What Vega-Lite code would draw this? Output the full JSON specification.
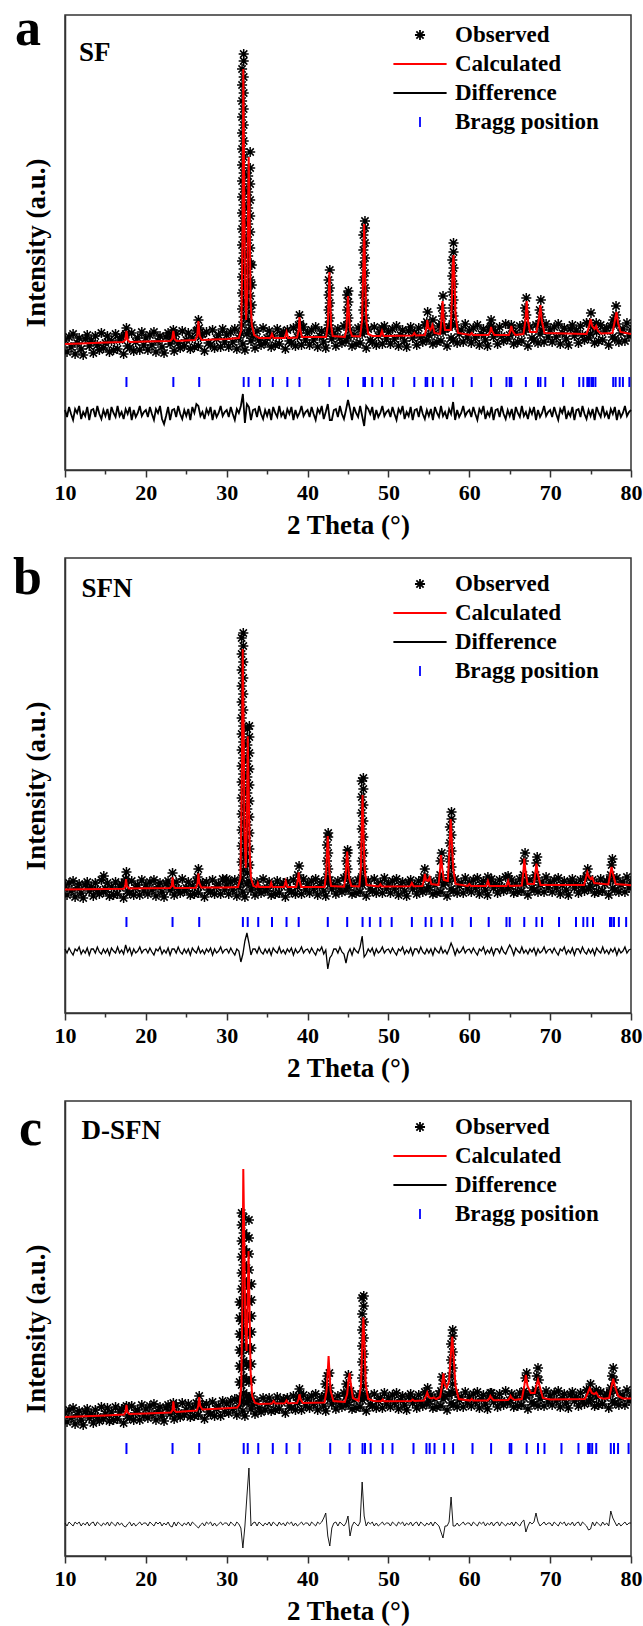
{
"$schema": "https://vega.github.io/schema/vega-lite/v6.json",
"background": "white",
"padding": {"left": 12, "top": 2, "right": 5, "bottom": 0},
"bounds": "flush",
"spacing": 88,
"resolve": {"scale": {"color": "independent", "shape": "independent", "y": "independent"}, "legend": {"color": "independent", "shape": "independent"}},
"config": {
 "font": "Liberation Serif",
 "view": {"stroke": "#333333", "strokeWidth": 1.5},
 "axis": {"grid": false, "domainColor": "#333333", "domainWidth": 1.5, "tickColor": "#333333", "tickWidth": 1.5, "labelFont": "Liberation Serif", "labelFontWeight": "bold", "labelColor": "#000000", "titleFont": "Liberation Serif", "titleFontWeight": "bold", "titleColor": "#000000"},
 "legend": {"labelFont": "Liberation Serif", "labelFontWeight": "bold", "labelFontSize": 23, "labelColor": "#000000", "symbolSize": 784, "symbolStrokeWidth": 1.8, "labelOffset": 20, "rowPadding": 2, "padding": 0, "symbolOpacity": 1, "labelLimit": 400}
},
"datasets": {
"a": [
{"x":10,"o":130,"d":60},{"x":10.25,"o":118,"d":53},{"x":10.5,"o":133,"d":63},{"x":10.75,"o":123,"d":56},{"x":11,"o":136,"d":50},{"x":11.25,"o":116,"d":61},{"x":11.5,"o":127,"d":57},{"x":11.75,"o":132,"d":64},{"x":12,"o":121,"d":51},{"x":12.25,"o":115,"d":58},{"x":12.5,"o":131,"d":54},{"x":12.75,"o":135,"d":63},{"x":13,"o":124,"d":50},{"x":13.25,"o":129,"d":60},{"x":13.5,"o":117,"d":61},{"x":13.75,"o":134,"d":53},{"x":14,"o":125,"d":64},{"x":14.25,"o":120,"d":56},{"x":14.5,"o":137,"d":51},{"x":14.75,"o":122,"d":60},{"x":15,"o":127,"d":54},{"x":15.25,"o":134,"d":61},{"x":15.5,"o":118,"d":50},{"x":15.75,"o":129,"d":63},{"x":16,"o":120,"d":57},{"x":16.25,"o":136,"d":53},{"x":16.5,"o":121,"d":64},{"x":16.75,"o":130,"d":54},{"x":17,"o":133,"d":58},{"x":17.25,"o":116,"d":51},{"x":17.5,"o":135,"d":61},{"x":17.75,"o":124,"d":56},{"x":18,"o":122,"d":63},{"x":18.25,"o":137,"d":50},{"x":18.5,"o":119,"d":60},{"x":18.75,"o":128,"d":53},{"x":19,"o":132,"d":57},{"x":19.25,"o":120,"d":64},{"x":19.5,"o":138,"d":54},{"x":19.75,"o":125,"d":58},
{"x":20,"o":132,"d":60},{"x":20.25,"o":120,"d":53},{"x":20.5,"o":135,"d":63},{"x":20.75,"o":125,"d":56},{"x":21,"o":138,"d":50},{"x":21.25,"o":118,"d":61},{"x":21.5,"o":129,"d":57},{"x":21.75,"o":134,"d":64},{"x":22,"o":123,"d":51},{"x":22.25,"o":117,"d":46},{"x":22.5,"o":133,"d":54},{"x":22.75,"o":137,"d":63},{"x":23,"o":126,"d":50},{"x":23.25,"o":131,"d":60},{"x":23.5,"o":119,"d":61},{"x":23.75,"o":136,"d":53},{"x":24,"o":127,"d":64},{"x":24.25,"o":122,"d":56},{"x":24.5,"o":139,"d":51},{"x":24.75,"o":124,"d":60},{"x":25,"o":130,"d":54},{"x":25.25,"o":137,"d":61},{"x":25.5,"o":121,"d":50},{"x":25.75,"o":132,"d":63},{"x":26,"o":123,"d":57},{"x":26.25,"o":139,"d":66},{"x":26.5,"o":124,"d":64},{"x":26.75,"o":133,"d":54},{"x":27,"o":136,"d":58},{"x":27.25,"o":119,"d":51},{"x":27.5,"o":138,"d":61},{"x":27.75,"o":127,"d":56},{"x":28,"o":125,"d":63},{"x":28.25,"o":140,"d":50},{"x":28.5,"o":122,"d":60},{"x":28.75,"o":131,"d":53},{"x":29,"o":135,"d":57},{"x":29.25,"o":123,"d":64},{"x":29.5,"o":141,"d":54},{"x":29.75,"o":128,"d":58},
{"x":30,"o":135,"d":60},{"x":30.25,"o":123,"d":53},{"x":30.5,"o":138,"d":63},{"x":30.75,"o":128,"d":56},{"x":31,"o":141,"d":50},{"x":31.25,"o":121,"d":61},{"x":31.5,"o":132,"d":57},{"x":31.75,"o":137,"d":64},{"x":32,"o":126,"d":76},{"x":32.25,"o":120,"d":47},{"x":32.5,"o":136,"d":66},{"x":32.75,"o":140,"d":63},{"x":33,"o":129,"d":50},{"x":33.25,"o":134,"d":60},{"x":33.5,"o":122,"d":61},{"x":33.75,"o":139,"d":53},{"x":34,"o":130,"d":64},{"x":34.25,"o":125,"d":56},{"x":34.5,"o":142,"d":51},{"x":34.75,"o":127,"d":60},{"x":35,"o":132,"d":54},{"x":35.25,"o":139,"d":61},{"x":35.5,"o":123,"d":50},{"x":35.75,"o":134,"d":63},{"x":36,"o":125,"d":57},{"x":36.25,"o":141,"d":53},{"x":36.5,"o":126,"d":64},{"x":36.75,"o":135,"d":54},{"x":37,"o":138,"d":58},{"x":37.25,"o":121,"d":51},{"x":37.5,"o":140,"d":61},{"x":37.75,"o":129,"d":56},{"x":38,"o":127,"d":63},{"x":38.25,"o":142,"d":50},{"x":38.5,"o":124,"d":60},{"x":38.75,"o":133,"d":53},{"x":39,"o":137,"d":57},{"x":39.25,"o":125,"d":64},{"x":39.5,"o":143,"d":54},{"x":39.75,"o":130,"d":58},
{"x":40,"o":137,"d":60},{"x":40.25,"o":125,"d":53},{"x":40.5,"o":140,"d":63},{"x":40.75,"o":130,"d":56},{"x":41,"o":143,"d":50},{"x":41.25,"o":123,"d":61},{"x":41.5,"o":134,"d":57},{"x":41.75,"o":139,"d":64},{"x":42,"o":128,"d":51},{"x":42.25,"o":122,"d":58},{"x":42.5,"o":138,"d":66},{"x":42.75,"o":142,"d":50},{"x":43,"o":131,"d":50},{"x":43.25,"o":136,"d":60},{"x":43.5,"o":124,"d":61},{"x":43.75,"o":141,"d":53},{"x":44,"o":132,"d":64},{"x":44.25,"o":127,"d":56},{"x":44.5,"o":144,"d":51},{"x":44.75,"o":129,"d":60},{"x":45,"o":133,"d":70},{"x":45.25,"o":140,"d":61},{"x":45.5,"o":124,"d":50},{"x":45.75,"o":135,"d":63},{"x":46,"o":126,"d":57},{"x":46.25,"o":142,"d":53},{"x":46.5,"o":127,"d":64},{"x":46.75,"o":136,"d":54},{"x":47,"o":139,"d":44},{"x":47.25,"o":122,"d":64},{"x":47.5,"o":141,"d":61},{"x":47.75,"o":130,"d":56},{"x":48,"o":128,"d":63},{"x":48.25,"o":143,"d":50},{"x":48.5,"o":125,"d":60},{"x":48.75,"o":134,"d":53},{"x":49,"o":138,"d":57},{"x":49.25,"o":126,"d":64},{"x":49.5,"o":144,"d":54},{"x":49.75,"o":131,"d":58},
{"x":50,"o":138,"d":60},{"x":50.25,"o":126,"d":53},{"x":50.5,"o":141,"d":63},{"x":50.75,"o":131,"d":56},{"x":51,"o":144,"d":50},{"x":51.25,"o":124,"d":61},{"x":51.5,"o":135,"d":57},{"x":51.75,"o":140,"d":64},{"x":52,"o":129,"d":51},{"x":52.25,"o":123,"d":58},{"x":52.5,"o":139,"d":54},{"x":52.75,"o":143,"d":63},{"x":53,"o":132,"d":50},{"x":53.25,"o":137,"d":60},{"x":53.5,"o":125,"d":61},{"x":53.75,"o":142,"d":53},{"x":54,"o":133,"d":64},{"x":54.25,"o":128,"d":56},{"x":54.5,"o":145,"d":51},{"x":54.75,"o":130,"d":60},{"x":55,"o":135,"d":54},{"x":55.25,"o":142,"d":61},{"x":55.5,"o":126,"d":50},{"x":55.75,"o":137,"d":63},{"x":56,"o":128,"d":57},{"x":56.25,"o":144,"d":53},{"x":56.5,"o":129,"d":64},{"x":56.75,"o":138,"d":54},{"x":57,"o":141,"d":58},{"x":57.25,"o":124,"d":51},{"x":57.5,"o":143,"d":61},{"x":57.75,"o":132,"d":56},{"x":58,"o":130,"d":68},{"x":58.25,"o":145,"d":50},{"x":58.5,"o":127,"d":60},{"x":58.75,"o":136,"d":53},{"x":59,"o":140,"d":57},{"x":59.25,"o":128,"d":64},{"x":59.5,"o":146,"d":54},{"x":59.75,"o":133,"d":58},
{"x":60,"o":139,"d":60},{"x":60.25,"o":127,"d":53},{"x":60.5,"o":142,"d":63},{"x":60.75,"o":132,"d":56},{"x":61,"o":145,"d":50},{"x":61.25,"o":125,"d":61},{"x":61.5,"o":136,"d":57},{"x":61.75,"o":141,"d":64},{"x":62,"o":130,"d":51},{"x":62.25,"o":124,"d":58},{"x":62.5,"o":140,"d":54},{"x":62.75,"o":144,"d":63},{"x":63,"o":133,"d":50},{"x":63.25,"o":138,"d":60},{"x":63.5,"o":126,"d":61},{"x":63.75,"o":143,"d":53},{"x":64,"o":134,"d":64},{"x":64.25,"o":129,"d":56},{"x":64.5,"o":146,"d":51},{"x":64.75,"o":131,"d":60},{"x":65,"o":135,"d":54},{"x":65.25,"o":142,"d":61},{"x":65.5,"o":126,"d":50},{"x":65.75,"o":137,"d":63},{"x":66,"o":128,"d":57},{"x":66.25,"o":144,"d":53},{"x":66.5,"o":129,"d":64},{"x":66.75,"o":138,"d":54},{"x":67,"o":141,"d":58},{"x":67.25,"o":124,"d":51},{"x":67.5,"o":143,"d":61},{"x":67.75,"o":132,"d":56},{"x":68,"o":130,"d":63},{"x":68.25,"o":145,"d":50},{"x":68.5,"o":127,"d":60},{"x":68.75,"o":136,"d":53},{"x":69,"o":140,"d":57},{"x":69.25,"o":128,"d":64},{"x":69.5,"o":146,"d":54},{"x":69.75,"o":133,"d":58},
{"x":70,"o":140,"d":60},{"x":70.25,"o":128,"d":53},{"x":70.5,"o":143,"d":63},{"x":70.75,"o":133,"d":56},{"x":71,"o":146,"d":50},{"x":71.25,"o":126,"d":61},{"x":71.5,"o":137,"d":57},{"x":71.75,"o":142,"d":64},{"x":72,"o":131,"d":51},{"x":72.25,"o":125,"d":58},{"x":72.5,"o":141,"d":54},{"x":72.75,"o":145,"d":63},{"x":73,"o":134,"d":50},{"x":73.25,"o":139,"d":60},{"x":73.5,"o":127,"d":61},{"x":73.75,"o":144,"d":53},{"x":74,"o":135,"d":64},{"x":74.25,"o":130,"d":56},{"x":74.5,"o":147,"d":51},{"x":74.75,"o":132,"d":60},{"x":75,"o":136,"d":54},{"x":75.25,"o":143,"d":61},{"x":75.5,"o":127,"d":50},{"x":75.75,"o":138,"d":63},{"x":76,"o":129,"d":57},{"x":76.25,"o":145,"d":53},{"x":76.5,"o":130,"d":64},{"x":76.75,"o":139,"d":54},{"x":77,"o":142,"d":58},{"x":77.25,"o":125,"d":51},{"x":77.5,"o":144,"d":61},{"x":77.75,"o":133,"d":56},{"x":78,"o":131,"d":63},{"x":78.25,"o":146,"d":50},{"x":78.5,"o":128,"d":60},{"x":78.75,"o":137,"d":53},{"x":79,"o":141,"d":57},{"x":79.25,"o":129,"d":64},{"x":79.5,"o":147,"d":54},{"x":79.75,"o":134,"d":58},{"x":80,"o":140,"d":60},
{"x":17.5,"o":136},{"x":17.6,"o":142},{"x":23.3,"o":135},{"x":23.4,"o":140},{"x":26.4,"o":140},{"x":26.5,"o":150},{"x":26.6,"o":142},
{"x":31.9,"o":145},{"x":31.9,"o":161},{"x":31.9,"o":177},{"x":31.9,"o":193},{"x":31.9,"o":209},{"x":31.9,"o":225},{"x":31.9,"o":241},{"x":31.9,"o":257},{"x":31.9,"o":273},{"x":31.9,"o":289},{"x":31.9,"o":305},{"x":31.9,"o":321},{"x":31.9,"o":337},{"x":31.9,"o":353},{"x":31.9,"o":369},{"x":31.9,"o":385},{"x":31.9,"o":401},
{"x":32.1,"o":153},{"x":32.1,"o":169},{"x":32.1,"o":185},{"x":32.1,"o":201},{"x":32.1,"o":217},{"x":32.1,"o":233},{"x":32.1,"o":249},{"x":32.1,"o":265},{"x":32.1,"o":281},{"x":32.1,"o":297},{"x":32.1,"o":313},{"x":32.1,"o":329},{"x":32.1,"o":345},{"x":32.1,"o":361},{"x":32.1,"o":377},{"x":32.1,"o":393},{"x":32.1,"o":409},{"x":32.1,"o":416},
{"x":32.65,"o":150},{"x":32.65,"o":166},{"x":32.65,"o":182},{"x":32.65,"o":198},{"x":32.65,"o":214},{"x":32.65,"o":230},{"x":32.65,"o":246},{"x":32.65,"o":262},{"x":32.65,"o":278},{"x":32.65,"o":294},
{"x":32.9,"o":158},{"x":32.9,"o":174},{"x":32.9,"o":190},{"x":32.9,"o":206},{"x":32.9,"o":222},{"x":32.9,"o":238},{"x":32.9,"o":254},{"x":32.9,"o":270},{"x":32.9,"o":286},{"x":32.9,"o":302},{"x":32.9,"o":318},
{"x":33.1,"o":145},{"x":33.1,"o":165},{"x":33.1,"o":185},{"x":33.1,"o":205},
{"x":38.9,"o":145},{"x":39,"o":155},{"x":39.1,"o":146},
{"x":42.6,"o":145},{"x":42.6,"o":160},{"x":42.6,"o":175},{"x":42.6,"o":190},{"x":42.75,"o":152},{"x":42.75,"o":167},{"x":42.75,"o":182},{"x":42.75,"o":200},
{"x":44.9,"o":145},{"x":44.9,"o":160},{"x":44.9,"o":175},{"x":45.05,"o":152},{"x":45.05,"o":168},{"x":45.05,"o":179},
{"x":46.9,"o":145},{"x":46.9,"o":160},{"x":46.9,"o":175},{"x":46.9,"o":190},{"x":46.9,"o":205},{"x":46.9,"o":220},{"x":46.9,"o":235},{"x":47.1,"o":152},{"x":47.1,"o":167},{"x":47.1,"o":182},{"x":47.1,"o":197},{"x":47.1,"o":212},{"x":47.1,"o":227},{"x":47.1,"o":242},{"x":47.1,"o":249},
{"x":49.2,"o":142},{"x":54.75,"o":148},{"x":54.85,"o":158},{"x":55.5,"o":150},
{"x":56.6,"o":146},{"x":56.6,"o":162},{"x":56.75,"o":154},{"x":56.75,"o":174},
{"x":57.9,"o":146},{"x":57.9,"o":162},{"x":57.9,"o":178},{"x":57.9,"o":194},{"x":57.9,"o":210},{"x":58.05,"o":154},{"x":58.05,"o":170},{"x":58.05,"o":186},{"x":58.05,"o":202},{"x":58.05,"o":218},{"x":58.05,"o":227},
{"x":62.6,"o":143},{"x":62.7,"o":150},{"x":65.2,"o":145},
{"x":66.9,"o":146},{"x":66.9,"o":162},{"x":67.05,"o":155},{"x":67.05,"o":172},
{"x":68.7,"o":146},{"x":68.7,"o":160},{"x":68.85,"o":153},{"x":68.85,"o":170},
{"x":74.9,"o":147},{"x":75.05,"o":157},{"x":75.7,"o":147},
{"x":77.8,"o":150},{"x":78,"o":147},{"x":78.15,"o":155},{"x":78.15,"o":164}
],
"ac": [
{"x":10,"c":126},{"x":12,"c":126.5},{"x":15,"c":127.5},{"x":17.2,"c":128},{"x":17.45,"c":130},{"x":17.6,"c":139},{"x":17.75,"c":130},{"x":18,"c":128},{"x":20,"c":128.5},{"x":23,"c":129},{"x":23.25,"c":131},{"x":23.4,"c":139},{"x":23.55,"c":131},{"x":23.8,"c":129},{"x":26.1,"c":130},{"x":26.35,"c":134},{"x":26.5,"c":149},{"x":26.65,"c":134},{"x":26.9,"c":130},{"x":30,"c":131},{"x":31.5,"c":132},{"x":31.8,"c":140},{"x":31.95,"c":230},{"x":32.05,"c":401},{"x":32.15,"c":300},{"x":32.25,"c":190},{"x":32.4,"c":150},{"x":32.55,"c":180},{"x":32.65,"c":270},{"x":32.72,"c":313},{"x":32.82,"c":260},{"x":32.95,"c":170},{"x":33.1,"c":145},{"x":33.4,"c":135},{"x":34,"c":132},{"x":35.4,"c":132},{"x":35.6,"c":136},{"x":35.8,"c":132},{"x":37.2,"c":132},{"x":37.4,"c":138},{"x":37.6,"c":132},{"x":38.7,"c":132.5},{"x":38.9,"c":140},{"x":39,"c":153},{"x":39.1,"c":140},{"x":39.3,"c":133},{"x":42.3,"c":133},{"x":42.5,"c":145},{"x":42.6,"c":170},{"x":42.7,"c":198},{"x":42.8,"c":170},{"x":42.9,"c":145},{"x":43.1,"c":134},{"x":44.6,"c":133},{"x":44.8,"c":140},{"x":44.92,"c":160},{"x":45,"c":174},{"x":45.1,"c":158},{"x":45.25,"c":140},{"x":45.5,"c":134},{"x":46.5,"c":133.5},{"x":46.75,"c":150},{"x":46.88,"c":200},{"x":47,"c":246},{"x":47.1,"c":200},{"x":47.25,"c":150},{"x":47.5,"c":136},{"x":48,"c":134},{"x":49,"c":134},{"x":49.2,"c":139},{"x":49.4,"c":134},{"x":53,"c":134.5},{"x":53.2,"c":137},{"x":53.4,"c":134.5},{"x":54.5,"c":135},{"x":54.7,"c":142},{"x":54.8,"c":150},{"x":54.95,"c":142},{"x":55.2,"c":140},{"x":55.45,"c":145},{"x":55.7,"c":137},{"x":56.4,"c":136},{"x":56.55,"c":150},{"x":56.7,"c":169},{"x":56.85,"c":150},{"x":57,"c":140},{"x":57.7,"c":140},{"x":57.85,"c":170},{"x":57.95,"c":205},{"x":58.05,"c":215},{"x":58.15,"c":195},{"x":58.3,"c":155},{"x":58.6,"c":137},{"x":60.1,"c":135},{"x":60.3,"c":137},{"x":60.5,"c":135},{"x":62.4,"c":135},{"x":62.6,"c":139},{"x":62.7,"c":143},{"x":62.8,"c":139},{"x":63.1,"c":135},{"x":64.9,"c":135},{"x":65.1,"c":140},{"x":65.2,"c":144},{"x":65.35,"c":139},{"x":65.7,"c":135},{"x":66.7,"c":136},{"x":66.95,"c":150},{"x":67.1,"c":169},{"x":67.25,"c":150},{"x":67.5,"c":138},{"x":68.3,"c":138},{"x":68.6,"c":150},{"x":68.8,"c":165},{"x":68.95,"c":150},{"x":69.3,"c":137},{"x":74.5,"c":136},{"x":74.8,"c":143},{"x":75,"c":151},{"x":75.2,"c":144},{"x":75.5,"c":141},{"x":75.7,"c":144},{"x":75.9,"c":139},{"x":76.3,"c":136.5},{"x":77.7,"c":137},{"x":77.95,"c":147},{"x":78.2,"c":158},{"x":78.4,"c":147},{"x":78.7,"c":138},{"x":80,"c":136}
],
"ab": [{"x":17.6},{"x":23.4},{"x":26.6},{"x":32.1},{"x":32.7},{"x":34.1},{"x":35.7},{"x":37.5},{"x":39.0},{"x":42.7},{"x":45.0},{"x":46.9},{"x":47.1},{"x":48.0},{"x":49.2},{"x":50.6},{"x":53.2},{"x":54.6},{"x":54.8},{"x":55.5},{"x":56.7},{"x":58.0},{"x":60.3},{"x":62.7},{"x":64.6},{"x":65.0},{"x":65.2},{"x":67.0},{"x":68.5},{"x":68.8},{"x":69.4},{"x":71.6},{"x":73.6},{"x":74.1},{"x":74.6},{"x":74.8},{"x":75.1},{"x":75.3},{"x":75.6},{"x":77.8},{"x":78.1},{"x":78.6},{"x":79.0},{"x":79.8}],
"b": [
{"x":10,"o":127,"d":64},{"x":10.25,"o":118,"d":60},{"x":10.5,"o":130,"d":65},{"x":10.75,"o":122,"d":61},{"x":11,"o":132,"d":58},{"x":11.25,"o":116,"d":64},{"x":11.5,"o":125,"d":62},{"x":11.75,"o":129,"d":66},{"x":12,"o":120,"d":59},{"x":12.25,"o":115,"d":63},{"x":12.5,"o":128,"d":60},{"x":12.75,"o":131,"d":65},{"x":13,"o":122,"d":58},{"x":13.25,"o":126,"d":64},{"x":13.5,"o":117,"d":64},{"x":13.75,"o":130,"d":60},{"x":14,"o":123,"d":66},{"x":14.25,"o":119,"d":61},{"x":14.5,"o":133,"d":59},{"x":14.75,"o":121,"d":64},{"x":15,"o":124,"d":60},{"x":15.25,"o":130,"d":64},{"x":15.5,"o":117,"d":58},{"x":15.75,"o":126,"d":65},{"x":16,"o":118,"d":62},{"x":16.25,"o":131,"d":60},{"x":16.5,"o":119,"d":66},{"x":16.75,"o":126,"d":60},{"x":17,"o":129,"d":63},{"x":17.25,"o":115,"d":59},{"x":17.5,"o":130,"d":68},{"x":17.75,"o":122,"d":61},{"x":18,"o":120,"d":65},{"x":18.25,"o":132,"d":58},{"x":18.5,"o":118,"d":64},{"x":18.75,"o":125,"d":60},{"x":19,"o":128,"d":62},{"x":19.25,"o":118,"d":66},{"x":19.5,"o":133,"d":60},{"x":19.75,"o":122,"d":63},
{"x":20,"o":128,"d":64},{"x":20.25,"o":119,"d":60},{"x":20.5,"o":131,"d":65},{"x":20.75,"o":123,"d":61},{"x":21,"o":133,"d":58},{"x":21.25,"o":117,"d":64},{"x":21.5,"o":126,"d":62},{"x":21.75,"o":130,"d":66},{"x":22,"o":121,"d":59},{"x":22.25,"o":116,"d":63},{"x":22.5,"o":129,"d":60},{"x":22.75,"o":132,"d":65},{"x":23,"o":123,"d":58},{"x":23.25,"o":127,"d":64},{"x":23.5,"o":118,"d":64},{"x":23.75,"o":131,"d":60},{"x":24,"o":124,"d":66},{"x":24.25,"o":120,"d":61},{"x":24.5,"o":134,"d":59},{"x":24.75,"o":122,"d":64},{"x":25,"o":125,"d":60},{"x":25.25,"o":131,"d":64},{"x":25.5,"o":118,"d":58},{"x":25.75,"o":127,"d":65},{"x":26,"o":119,"d":62},{"x":26.25,"o":132,"d":60},{"x":26.5,"o":120,"d":66},{"x":26.75,"o":127,"d":60},{"x":27,"o":130,"d":63},{"x":27.25,"o":116,"d":59},{"x":27.5,"o":131,"d":64},{"x":27.75,"o":123,"d":61},{"x":28,"o":121,"d":65},{"x":28.25,"o":133,"d":58},{"x":28.5,"o":119,"d":64},{"x":28.75,"o":126,"d":60},{"x":29,"o":129,"d":62},{"x":29.25,"o":119,"d":66},{"x":29.5,"o":134,"d":60},{"x":29.75,"o":123,"d":63},
{"x":30,"o":128,"d":64},{"x":30.25,"o":119,"d":60},{"x":30.5,"o":131,"d":65},{"x":30.75,"o":123,"d":61},{"x":31,"o":133,"d":58},{"x":31.25,"o":117,"d":64},{"x":31.5,"o":126,"d":62},{"x":31.75,"o":130,"d":51},{"x":32,"o":121,"d":59},{"x":32.25,"o":116,"d":72},{"x":32.5,"o":129,"d":80},{"x":32.75,"o":132,"d":70},{"x":33,"o":123,"d":58},{"x":33.25,"o":127,"d":64},{"x":33.5,"o":118,"d":64},{"x":33.75,"o":131,"d":60},{"x":34,"o":124,"d":66},{"x":34.25,"o":120,"d":61},{"x":34.5,"o":134,"d":59},{"x":34.75,"o":122,"d":64},{"x":35,"o":125,"d":60},{"x":35.25,"o":131,"d":64},{"x":35.5,"o":118,"d":58},{"x":35.75,"o":127,"d":65},{"x":36,"o":119,"d":62},{"x":36.25,"o":132,"d":60},{"x":36.5,"o":120,"d":66},{"x":36.75,"o":127,"d":60},{"x":37,"o":130,"d":63},{"x":37.25,"o":116,"d":59},{"x":37.5,"o":131,"d":64},{"x":37.75,"o":123,"d":61},{"x":38,"o":121,"d":65},{"x":38.25,"o":133,"d":58},{"x":38.5,"o":119,"d":64},{"x":38.75,"o":126,"d":60},{"x":39,"o":129,"d":62},{"x":39.25,"o":119,"d":66},{"x":39.5,"o":134,"d":60},{"x":39.75,"o":123,"d":63},
{"x":40,"o":129,"d":64},{"x":40.25,"o":120,"d":60},{"x":40.5,"o":132,"d":65},{"x":40.75,"o":124,"d":61},{"x":41,"o":134,"d":58},{"x":41.25,"o":118,"d":64},{"x":41.5,"o":127,"d":62},{"x":41.75,"o":131,"d":66},{"x":42,"o":122,"d":59},{"x":42.25,"o":117,"d":63},{"x":42.5,"o":130,"d":44},{"x":42.75,"o":133,"d":55},{"x":43,"o":124,"d":58},{"x":43.25,"o":128,"d":64},{"x":43.5,"o":119,"d":64},{"x":43.75,"o":132,"d":60},{"x":44,"o":125,"d":66},{"x":44.25,"o":121,"d":61},{"x":44.5,"o":135,"d":59},{"x":44.75,"o":123,"d":50},{"x":45,"o":126,"d":60},{"x":45.25,"o":132,"d":64},{"x":45.5,"o":119,"d":58},{"x":45.75,"o":128,"d":65},{"x":46,"o":120,"d":62},{"x":46.25,"o":133,"d":60},{"x":46.5,"o":121,"d":66},{"x":46.75,"o":128,"d":77},{"x":47,"o":131,"d":56},{"x":47.25,"o":117,"d":59},{"x":47.5,"o":132,"d":64},{"x":47.75,"o":124,"d":61},{"x":48,"o":122,"d":65},{"x":48.25,"o":134,"d":58},{"x":48.5,"o":120,"d":64},{"x":48.75,"o":127,"d":60},{"x":49,"o":130,"d":62},{"x":49.25,"o":120,"d":66},{"x":49.5,"o":135,"d":60},{"x":49.75,"o":124,"d":63},
{"x":50,"o":129,"d":64},{"x":50.25,"o":120,"d":60},{"x":50.5,"o":132,"d":65},{"x":50.75,"o":124,"d":61},{"x":51,"o":134,"d":58},{"x":51.25,"o":118,"d":64},{"x":51.5,"o":127,"d":62},{"x":51.75,"o":131,"d":66},{"x":52,"o":122,"d":59},{"x":52.25,"o":117,"d":63},{"x":52.5,"o":130,"d":60},{"x":52.75,"o":133,"d":65},{"x":53,"o":124,"d":58},{"x":53.25,"o":128,"d":64},{"x":53.5,"o":119,"d":64},{"x":53.75,"o":132,"d":60},{"x":54,"o":125,"d":66},{"x":54.25,"o":121,"d":61},{"x":54.5,"o":135,"d":59},{"x":54.75,"o":123,"d":64},{"x":55,"o":126,"d":60},{"x":55.25,"o":132,"d":64},{"x":55.5,"o":119,"d":58},{"x":55.75,"o":128,"d":65},{"x":56,"o":120,"d":62},{"x":56.25,"o":133,"d":60},{"x":56.5,"o":121,"d":66},{"x":56.75,"o":128,"d":60},{"x":57,"o":131,"d":63},{"x":57.25,"o":117,"d":59},{"x":57.5,"o":132,"d":64},{"x":57.75,"o":124,"d":70},{"x":58,"o":122,"d":65},{"x":58.25,"o":134,"d":58},{"x":58.5,"o":120,"d":64},{"x":58.75,"o":127,"d":60},{"x":59,"o":130,"d":62},{"x":59.25,"o":120,"d":66},{"x":59.5,"o":135,"d":60},{"x":59.75,"o":124,"d":63},
{"x":60,"o":130,"d":64},{"x":60.25,"o":121,"d":60},{"x":60.5,"o":133,"d":65},{"x":60.75,"o":125,"d":61},{"x":61,"o":135,"d":58},{"x":61.25,"o":119,"d":64},{"x":61.5,"o":128,"d":62},{"x":61.75,"o":132,"d":66},{"x":62,"o":123,"d":59},{"x":62.25,"o":118,"d":63},{"x":62.5,"o":131,"d":60},{"x":62.75,"o":134,"d":65},{"x":63,"o":125,"d":58},{"x":63.25,"o":129,"d":64},{"x":63.5,"o":120,"d":64},{"x":63.75,"o":133,"d":60},{"x":64,"o":126,"d":66},{"x":64.25,"o":122,"d":61},{"x":64.5,"o":136,"d":59},{"x":64.75,"o":124,"d":64},{"x":65,"o":127,"d":68},{"x":65.25,"o":133,"d":64},{"x":65.5,"o":120,"d":58},{"x":65.75,"o":129,"d":65},{"x":66,"o":121,"d":62},{"x":66.25,"o":134,"d":60},{"x":66.5,"o":122,"d":66},{"x":66.75,"o":129,"d":60},{"x":67,"o":132,"d":63},{"x":67.25,"o":118,"d":59},{"x":67.5,"o":133,"d":64},{"x":67.75,"o":125,"d":61},{"x":68,"o":123,"d":65},{"x":68.25,"o":135,"d":58},{"x":68.5,"o":121,"d":64},{"x":68.75,"o":128,"d":60},{"x":69,"o":131,"d":62},{"x":69.25,"o":121,"d":66},{"x":69.5,"o":136,"d":60},{"x":69.75,"o":125,"d":63},
{"x":70,"o":130,"d":64},{"x":70.25,"o":121,"d":60},{"x":70.5,"o":133,"d":65},{"x":70.75,"o":125,"d":61},{"x":71,"o":135,"d":58},{"x":71.25,"o":119,"d":64},{"x":71.5,"o":128,"d":62},{"x":71.75,"o":132,"d":66},{"x":72,"o":123,"d":59},{"x":72.25,"o":118,"d":63},{"x":72.5,"o":131,"d":60},{"x":72.75,"o":134,"d":65},{"x":73,"o":125,"d":58},{"x":73.25,"o":129,"d":64},{"x":73.5,"o":120,"d":64},{"x":73.75,"o":133,"d":60},{"x":74,"o":126,"d":66},{"x":74.25,"o":122,"d":61},{"x":74.5,"o":136,"d":59},{"x":74.75,"o":124,"d":64},{"x":75,"o":127,"d":60},{"x":75.25,"o":133,"d":64},{"x":75.5,"o":120,"d":58},{"x":75.75,"o":129,"d":65},{"x":76,"o":121,"d":62},{"x":76.25,"o":134,"d":60},{"x":76.5,"o":122,"d":66},{"x":76.75,"o":129,"d":60},{"x":77,"o":132,"d":63},{"x":77.25,"o":118,"d":59},{"x":77.5,"o":133,"d":64},{"x":77.75,"o":125,"d":61},{"x":78,"o":123,"d":65},{"x":78.25,"o":135,"d":58},{"x":78.5,"o":121,"d":64},{"x":78.75,"o":128,"d":60},{"x":79,"o":131,"d":62},{"x":79.25,"o":121,"d":66},{"x":79.5,"o":136,"d":60},{"x":79.75,"o":125,"d":63},{"x":80,"o":130,"d":64},
{"x":14.8,"o":137},{"x":17.5,"o":134},{"x":17.6,"o":141},{"x":23.3,"o":140},{"x":26.4,"o":136},{"x":26.5,"o":144},{"x":30,"o":134},
{"x":31.85,"o":135},{"x":31.85,"o":151},{"x":31.85,"o":167},{"x":31.85,"o":183},{"x":31.85,"o":199},{"x":31.85,"o":215},{"x":31.85,"o":231},{"x":31.85,"o":247},{"x":31.85,"o":263},{"x":31.85,"o":279},{"x":31.85,"o":295},{"x":31.85,"o":311},{"x":31.85,"o":327},{"x":31.85,"o":343},{"x":31.85,"o":359},{"x":31.85,"o":375},
{"x":32.05,"o":143},{"x":32.05,"o":159},{"x":32.05,"o":175},{"x":32.05,"o":191},{"x":32.05,"o":207},{"x":32.05,"o":223},{"x":32.05,"o":239},{"x":32.05,"o":255},{"x":32.05,"o":271},{"x":32.05,"o":287},{"x":32.05,"o":303},{"x":32.05,"o":319},{"x":32.05,"o":335},{"x":32.05,"o":351},{"x":32.05,"o":367},{"x":32.05,"o":380},
{"x":32.55,"o":140},{"x":32.55,"o":156},{"x":32.55,"o":172},{"x":32.55,"o":188},{"x":32.55,"o":204},{"x":32.55,"o":220},{"x":32.55,"o":236},{"x":32.55,"o":252},{"x":32.55,"o":268},{"x":32.55,"o":284},
{"x":32.8,"o":148},{"x":32.8,"o":164},{"x":32.8,"o":180},{"x":32.8,"o":196},{"x":32.8,"o":212},{"x":32.8,"o":228},{"x":32.8,"o":244},{"x":32.8,"o":260},{"x":32.8,"o":276},{"x":32.8,"o":287},
{"x":38.8,"o":138},{"x":38.95,"o":147},
{"x":42.4,"o":136},{"x":42.4,"o":152},{"x":42.4,"o":168},{"x":42.55,"o":144},{"x":42.55,"o":160},{"x":42.55,"o":176},{"x":42.55,"o":180},
{"x":44.8,"o":136},{"x":44.8,"o":152},{"x":44.95,"o":144},{"x":44.95,"o":160},{"x":44.95,"o":163},
{"x":46.7,"o":136},{"x":46.7,"o":152},{"x":46.7,"o":168},{"x":46.7,"o":184},{"x":46.7,"o":200},{"x":46.7,"o":216},{"x":46.7,"o":232},{"x":46.9,"o":144},{"x":46.9,"o":160},{"x":46.9,"o":176},{"x":46.9,"o":192},{"x":46.9,"o":208},{"x":46.9,"o":224},{"x":46.9,"o":235},
{"x":54.4,"o":136},{"x":54.5,"o":144},{"x":56.4,"o":138},{"x":56.45,"o":152},{"x":56.6,"o":160},
{"x":57.6,"o":138},{"x":57.6,"o":154},{"x":57.6,"o":170},{"x":57.6,"o":186},{"x":57.8,"o":146},{"x":57.8,"o":162},{"x":57.8,"o":178},{"x":57.8,"o":194},{"x":57.8,"o":201},
{"x":62.3,"o":136},{"x":64.8,"o":137},{"x":66.7,"o":138},{"x":66.75,"o":152},{"x":66.9,"o":160},{"x":68.2,"o":138},{"x":68.3,"o":150},{"x":68.4,"o":156},{"x":74.5,"o":137},{"x":74.65,"o":144},{"x":77.5,"o":138},{"x":77.6,"o":148},{"x":77.7,"o":154}
],
"bc": [
{"x":10,"c":123.5},{"x":15,"c":124},{"x":17.3,"c":124.3},{"x":17.45,"c":127},{"x":17.55,"c":134},{"x":17.65,"c":127},{"x":17.9,"c":124.5},{"x":23,"c":125},{"x":23.2,"c":127},{"x":23.3,"c":135.6},{"x":23.4,"c":127},{"x":23.6,"c":125},{"x":26.2,"c":125.3},{"x":26.4,"c":130},{"x":26.5,"c":139.7},{"x":26.6,"c":130},{"x":26.85,"c":125.5},{"x":30,"c":125.5},{"x":31.4,"c":126},{"x":31.7,"c":135},{"x":31.85,"c":220},{"x":31.98,"c":364},{"x":32.1,"c":280},{"x":32.2,"c":180},{"x":32.35,"c":145},{"x":32.5,"c":190},{"x":32.6,"c":276.7},{"x":32.7,"c":230},{"x":32.85,"c":160},{"x":33,"c":135},{"x":33.3,"c":127},{"x":33.7,"c":126},{"x":33.85,"c":130},{"x":34,"c":126},{"x":35.35,"c":126},{"x":35.5,"c":130},{"x":35.65,"c":126},{"x":37.1,"c":126},{"x":37.3,"c":132},{"x":37.5,"c":126},{"x":38.6,"c":126},{"x":38.8,"c":133},{"x":38.9,"c":140.7},{"x":39,"c":133},{"x":39.2,"c":126},{"x":42.1,"c":126},{"x":42.3,"c":140},{"x":42.4,"c":160},{"x":42.5,"c":177},{"x":42.6,"c":160},{"x":42.7,"c":140},{"x":42.9,"c":127},{"x":44.5,"c":126.3},{"x":44.7,"c":135},{"x":44.82,"c":152},{"x":44.9,"c":161.4},{"x":45,"c":150},{"x":45.15,"c":135},{"x":45.4,"c":127},{"x":46.4,"c":126.5},{"x":46.6,"c":145},{"x":46.7,"c":185},{"x":46.8,"c":218},{"x":46.9,"c":185},{"x":47.05,"c":145},{"x":47.3,"c":128},{"x":48.8,"c":126.5},{"x":49,"c":128.7},{"x":49.2,"c":126.5},{"x":52.7,"c":126.8},{"x":52.9,"c":130},{"x":53.1,"c":126.8},{"x":54.2,"c":127},{"x":54.4,"c":133},{"x":54.5,"c":139},{"x":54.65,"c":133},{"x":54.9,"c":132},{"x":55.1,"c":135.6},{"x":55.3,"c":129},{"x":56.2,"c":128},{"x":56.4,"c":145},{"x":56.5,"c":158},{"x":56.65,"c":145},{"x":56.85,"c":133},{"x":57.35,"c":132},{"x":57.55,"c":165},{"x":57.7,"c":194},{"x":57.85,"c":170},{"x":58,"c":145},{"x":58.3,"c":129},{"x":59.8,"c":127},{"x":60,"c":129},{"x":60.2,"c":127},{"x":62.1,"c":127},{"x":62.3,"c":132},{"x":62.5,"c":127},{"x":64.6,"c":127},{"x":64.8,"c":132},{"x":65,"c":127},{"x":66.5,"c":127.5},{"x":66.7,"c":142},{"x":66.8,"c":154.5},{"x":66.95,"c":142},{"x":67.2,"c":129},{"x":68,"c":129},{"x":68.2,"c":142},{"x":68.3,"c":149.3},{"x":68.45,"c":140},{"x":68.8,"c":128},{"x":74.2,"c":128},{"x":74.45,"c":136},{"x":74.6,"c":140.7},{"x":74.8,"c":136},{"x":75,"c":134},{"x":75.2,"c":135.6},{"x":75.45,"c":130},{"x":77.2,"c":128.5},{"x":77.45,"c":140},{"x":77.6,"c":146},{"x":77.75,"c":140},{"x":78.1,"c":129},{"x":80,"c":127.7}
],
"bb": [{"x":17.6},{"x":23.3},{"x":26.6},{"x":32.0},{"x":32.6},{"x":33.9},{"x":35.6},{"x":37.4},{"x":38.9},{"x":42.5},{"x":44.9},{"x":46.8},{"x":47.7},{"x":49.0},{"x":50.4},{"x":52.9},{"x":54.6},{"x":55.3},{"x":56.6},{"x":57.9},{"x":60.2},{"x":62.4},{"x":64.6},{"x":65.0},{"x":66.8},{"x":68.3},{"x":69.0},{"x":71.1},{"x":73.2},{"x":74.1},{"x":74.6},{"x":75.3},{"x":77.4},{"x":77.6},{"x":77.9},{"x":78.5},{"x":79.4}],
"c": [
{"x":10,"o":143,"d":33},{"x":10.25,"o":134,"d":30},{"x":10.5,"o":146,"d":34},{"x":10.75,"o":138,"d":32},{"x":11,"o":148,"d":30},{"x":11.25,"o":132,"d":34},{"x":11.5,"o":141,"d":32},{"x":11.75,"o":145,"d":34},{"x":12,"o":136,"d":30},{"x":12.25,"o":131,"d":33},{"x":12.5,"o":144,"d":31},{"x":12.75,"o":147,"d":34},{"x":13,"o":138,"d":30},{"x":13.25,"o":142,"d":33},{"x":13.5,"o":133,"d":34},{"x":13.75,"o":146,"d":30},{"x":14,"o":139,"d":34},{"x":14.25,"o":135,"d":32},{"x":14.5,"o":149,"d":30},{"x":14.75,"o":137,"d":33},{"x":15,"o":142,"d":31},{"x":15.25,"o":148,"d":34},{"x":15.5,"o":135,"d":30},{"x":15.75,"o":144,"d":34},{"x":16,"o":136,"d":32},{"x":16.25,"o":149,"d":30},{"x":16.5,"o":137,"d":34},{"x":16.75,"o":144,"d":31},{"x":17,"o":147,"d":33},{"x":17.25,"o":133,"d":30},{"x":17.5,"o":148,"d":29},{"x":17.75,"o":140,"d":32},{"x":18,"o":138,"d":34},{"x":18.25,"o":150,"d":30},{"x":18.5,"o":136,"d":33},{"x":18.75,"o":143,"d":30},{"x":19,"o":146,"d":32},{"x":19.25,"o":136,"d":34},{"x":19.5,"o":151,"d":31},{"x":19.75,"o":140,"d":33},
{"x":20,"o":147,"d":33},{"x":20.25,"o":138,"d":30},{"x":20.5,"o":150,"d":34},{"x":20.75,"o":142,"d":32},{"x":21,"o":152,"d":30},{"x":21.25,"o":136,"d":34},{"x":21.5,"o":145,"d":32},{"x":21.75,"o":149,"d":34},{"x":22,"o":140,"d":30},{"x":22.25,"o":135,"d":33},{"x":22.5,"o":148,"d":31},{"x":22.75,"o":151,"d":34},{"x":23,"o":142,"d":30},{"x":23.25,"o":146,"d":29},{"x":23.5,"o":137,"d":34},{"x":23.75,"o":150,"d":30},{"x":24,"o":143,"d":34},{"x":24.25,"o":139,"d":32},{"x":24.5,"o":153,"d":30},{"x":24.75,"o":141,"d":33},{"x":25,"o":146,"d":31},{"x":25.25,"o":152,"d":34},{"x":25.5,"o":139,"d":30},{"x":25.75,"o":148,"d":34},{"x":26,"o":140,"d":32},{"x":26.25,"o":153,"d":30},{"x":26.5,"o":141,"d":28},{"x":26.75,"o":148,"d":31},{"x":27,"o":151,"d":33},{"x":27.25,"o":137,"d":30},{"x":27.5,"o":152,"d":34},{"x":27.75,"o":144,"d":32},{"x":28,"o":142,"d":34},{"x":28.25,"o":154,"d":30},{"x":28.5,"o":140,"d":33},{"x":28.75,"o":147,"d":30},{"x":29,"o":150,"d":32},{"x":29.25,"o":140,"d":34},{"x":29.5,"o":155,"d":31},{"x":29.75,"o":144,"d":33},
{"x":30,"o":152,"d":33},{"x":30.25,"o":143,"d":30},{"x":30.5,"o":155,"d":34},{"x":30.75,"o":147,"d":32},{"x":31,"o":157,"d":30},{"x":31.25,"o":141,"d":34},{"x":31.5,"o":150,"d":32},{"x":31.75,"o":154,"d":28},{"x":32,"o":145,"d":8},{"x":32.25,"o":140,"d":30},{"x":32.5,"o":153,"d":60},{"x":32.75,"o":156,"d":88},{"x":33,"o":147,"d":30},{"x":33.25,"o":151,"d":33},{"x":33.5,"o":142,"d":34},{"x":33.75,"o":155,"d":30},{"x":34,"o":148,"d":34},{"x":34.25,"o":144,"d":32},{"x":34.5,"o":158,"d":30},{"x":34.75,"o":146,"d":33},{"x":35,"o":152,"d":31},{"x":35.25,"o":158,"d":34},{"x":35.5,"o":145,"d":30},{"x":35.75,"o":154,"d":34},{"x":36,"o":146,"d":32},{"x":36.25,"o":159,"d":30},{"x":36.5,"o":147,"d":34},{"x":36.75,"o":154,"d":31},{"x":37,"o":157,"d":33},{"x":37.25,"o":143,"d":30},{"x":37.5,"o":158,"d":34},{"x":37.75,"o":150,"d":32},{"x":38,"o":148,"d":34},{"x":38.25,"o":160,"d":30},{"x":38.5,"o":146,"d":33},{"x":38.75,"o":153,"d":30},{"x":39,"o":156,"d":32},{"x":39.25,"o":146,"d":34},{"x":39.5,"o":161,"d":31},{"x":39.75,"o":150,"d":33},
{"x":40,"o":157,"d":33},{"x":40.25,"o":148,"d":30},{"x":40.5,"o":160,"d":34},{"x":40.75,"o":152,"d":32},{"x":41,"o":162,"d":30},{"x":41.25,"o":146,"d":34},{"x":41.5,"o":155,"d":32},{"x":41.75,"o":159,"d":34},{"x":42,"o":150,"d":38},{"x":42.25,"o":145,"d":43},{"x":42.5,"o":158,"d":20},{"x":42.75,"o":161,"d":10},{"x":43,"o":152,"d":28},{"x":43.25,"o":156,"d":33},{"x":43.5,"o":147,"d":34},{"x":43.75,"o":160,"d":30},{"x":44,"o":153,"d":34},{"x":44.25,"o":149,"d":32},{"x":44.5,"o":163,"d":30},{"x":44.75,"o":151,"d":33},{"x":45,"o":154,"d":40},{"x":45.25,"o":160,"d":20},{"x":45.5,"o":147,"d":30},{"x":45.75,"o":156,"d":34},{"x":46,"o":148,"d":32},{"x":46.25,"o":161,"d":30},{"x":46.5,"o":149,"d":34},{"x":46.75,"o":156,"d":74},{"x":47,"o":159,"d":40},{"x":47.25,"o":145,"d":30},{"x":47.5,"o":160,"d":34},{"x":47.75,"o":152,"d":32},{"x":48,"o":150,"d":34},{"x":48.25,"o":162,"d":30},{"x":48.5,"o":148,"d":33},{"x":48.75,"o":155,"d":30},{"x":49,"o":158,"d":32},{"x":49.25,"o":148,"d":34},{"x":49.5,"o":163,"d":31},{"x":49.75,"o":152,"d":33},
{"x":50,"o":158,"d":33},{"x":50.25,"o":149,"d":30},{"x":50.5,"o":161,"d":34},{"x":50.75,"o":153,"d":32},{"x":51,"o":163,"d":30},{"x":51.25,"o":147,"d":34},{"x":51.5,"o":156,"d":32},{"x":51.75,"o":160,"d":34},{"x":52,"o":151,"d":30},{"x":52.25,"o":146,"d":33},{"x":52.5,"o":159,"d":31},{"x":52.75,"o":162,"d":34},{"x":53,"o":153,"d":30},{"x":53.25,"o":157,"d":33},{"x":53.5,"o":148,"d":34},{"x":53.75,"o":161,"d":30},{"x":54,"o":154,"d":34},{"x":54.25,"o":150,"d":32},{"x":54.5,"o":164,"d":30},{"x":54.75,"o":152,"d":33},{"x":55,"o":155,"d":31},{"x":55.25,"o":161,"d":34},{"x":55.5,"o":148,"d":30},{"x":55.75,"o":157,"d":34},{"x":56,"o":149,"d":32},{"x":56.25,"o":162,"d":30},{"x":56.5,"o":150,"d":24},{"x":56.75,"o":157,"d":18},{"x":57,"o":160,"d":30},{"x":57.25,"o":146,"d":30},{"x":57.5,"o":161,"d":34},{"x":57.75,"o":153,"d":59},{"x":58,"o":151,"d":30},{"x":58.25,"o":163,"d":30},{"x":58.5,"o":149,"d":33},{"x":58.75,"o":156,"d":30},{"x":59,"o":159,"d":32},{"x":59.25,"o":149,"d":34},{"x":59.5,"o":164,"d":31},{"x":59.75,"o":153,"d":33},
{"x":60,"o":159,"d":33},{"x":60.25,"o":150,"d":30},{"x":60.5,"o":162,"d":34},{"x":60.75,"o":154,"d":32},{"x":61,"o":164,"d":30},{"x":61.25,"o":148,"d":34},{"x":61.5,"o":157,"d":32},{"x":61.75,"o":161,"d":34},{"x":62,"o":152,"d":30},{"x":62.25,"o":147,"d":33},{"x":62.5,"o":160,"d":31},{"x":62.75,"o":163,"d":34},{"x":63,"o":154,"d":30},{"x":63.25,"o":158,"d":33},{"x":63.5,"o":149,"d":34},{"x":63.75,"o":162,"d":30},{"x":64,"o":155,"d":34},{"x":64.25,"o":151,"d":32},{"x":64.5,"o":165,"d":30},{"x":64.75,"o":153,"d":33},{"x":65,"o":156,"d":31},{"x":65.25,"o":162,"d":34},{"x":65.5,"o":149,"d":30},{"x":65.75,"o":158,"d":34},{"x":66,"o":150,"d":32},{"x":66.25,"o":163,"d":30},{"x":66.5,"o":151,"d":34},{"x":66.75,"o":158,"d":36},{"x":67,"o":161,"d":24},{"x":67.25,"o":147,"d":30},{"x":67.5,"o":162,"d":34},{"x":67.75,"o":154,"d":32},{"x":68,"o":152,"d":34},{"x":68.25,"o":164,"d":43},{"x":68.5,"o":150,"d":34},{"x":68.75,"o":157,"d":30},{"x":69,"o":160,"d":32},{"x":69.25,"o":150,"d":34},{"x":69.5,"o":165,"d":31},{"x":69.75,"o":154,"d":33},
{"x":70,"o":160,"d":33},{"x":70.25,"o":151,"d":30},{"x":70.5,"o":163,"d":34},{"x":70.75,"o":155,"d":32},{"x":71,"o":165,"d":30},{"x":71.25,"o":149,"d":34},{"x":71.5,"o":158,"d":32},{"x":71.75,"o":162,"d":34},{"x":72,"o":153,"d":30},{"x":72.25,"o":148,"d":33},{"x":72.5,"o":161,"d":31},{"x":72.75,"o":164,"d":34},{"x":73,"o":155,"d":30},{"x":73.25,"o":159,"d":33},{"x":73.5,"o":150,"d":34},{"x":73.75,"o":163,"d":30},{"x":74,"o":156,"d":34},{"x":74.25,"o":152,"d":32},{"x":74.5,"o":166,"d":30},{"x":74.75,"o":154,"d":26},{"x":75,"o":157,"d":27},{"x":75.25,"o":163,"d":34},{"x":75.5,"o":150,"d":30},{"x":75.75,"o":159,"d":34},{"x":76,"o":151,"d":32},{"x":76.25,"o":164,"d":30},{"x":76.5,"o":152,"d":34},{"x":76.75,"o":159,"d":31},{"x":77,"o":162,"d":33},{"x":77.25,"o":148,"d":30},{"x":77.5,"o":163,"d":45},{"x":77.75,"o":155,"d":38},{"x":78,"o":153,"d":34},{"x":78.25,"o":165,"d":30},{"x":78.5,"o":151,"d":33},{"x":78.75,"o":158,"d":30},{"x":79,"o":161,"d":32},{"x":79.25,"o":151,"d":34},{"x":79.5,"o":166,"d":31},{"x":79.75,"o":155,"d":33},{"x":80,"o":160,"d":33},
{"x":17.6,"o":150},{"x":23.4,"o":153},{"x":26.5,"o":152},{"x":26.6,"o":160},
{"x":31.6,"o":158},{"x":31.6,"o":174},{"x":31.6,"o":190},{"x":31.6,"o":206},{"x":31.6,"o":222},{"x":31.6,"o":238},{"x":31.6,"o":254},
{"x":31.85,"o":155},{"x":31.85,"o":171},{"x":31.85,"o":187},{"x":31.85,"o":203},{"x":31.85,"o":219},{"x":31.85,"o":235},{"x":31.85,"o":251},{"x":31.85,"o":267},{"x":31.85,"o":283},{"x":31.85,"o":299},{"x":31.85,"o":315},{"x":31.85,"o":331},{"x":31.85,"o":343},
{"x":32.1,"o":163},{"x":32.1,"o":179},{"x":32.1,"o":195},{"x":32.1,"o":211},{"x":32.1,"o":227},{"x":32.1,"o":243},{"x":32.1,"o":259},{"x":32.1,"o":275},{"x":32.1,"o":291},{"x":32.1,"o":307},{"x":32.1,"o":323},{"x":32.1,"o":339},
{"x":32.45,"o":160},{"x":32.45,"o":176},{"x":32.45,"o":192},{"x":32.45,"o":208},{"x":32.45,"o":224},{"x":32.45,"o":240},{"x":32.45,"o":256},{"x":32.45,"o":272},{"x":32.45,"o":288},{"x":32.45,"o":304},{"x":32.45,"o":320},
{"x":32.75,"o":158},{"x":32.75,"o":174},{"x":32.75,"o":190},{"x":32.75,"o":206},{"x":32.75,"o":222},{"x":32.75,"o":238},{"x":32.75,"o":254},{"x":32.75,"o":270},{"x":32.75,"o":286},{"x":32.75,"o":302},{"x":32.75,"o":318},{"x":32.75,"o":336},
{"x":33.05,"o":160},{"x":33.05,"o":176},{"x":33.05,"o":192},{"x":33.05,"o":208},{"x":33.05,"o":224},{"x":33.05,"o":240},{"x":33.05,"o":256},{"x":33.05,"o":272},
{"x":38.9,"o":160},{"x":39,"o":167},
{"x":42.2,"o":160},{"x":42.2,"o":172},{"x":42.45,"o":165},{"x":42.45,"o":180},{"x":42.7,"o":168},{"x":42.7,"o":183},
{"x":44.8,"o":160},{"x":44.8,"o":172},{"x":45.05,"o":166},{"x":45.05,"o":181},{"x":45.3,"o":165},
{"x":46.75,"o":162},{"x":46.75,"o":178},{"x":46.75,"o":194},{"x":46.75,"o":210},{"x":46.75,"o":226},{"x":46.75,"o":242},{"x":46.75,"o":258},{"x":46.95,"o":170},{"x":46.95,"o":186},{"x":46.95,"o":202},{"x":46.95,"o":218},{"x":46.95,"o":234},{"x":46.95,"o":250},{"x":46.95,"o":260},
{"x":54.7,"o":162},{"x":54.85,"o":168},{"x":56.5,"o":165},{"x":56.65,"o":179},{"x":56.8,"o":172},
{"x":57.75,"o":164},{"x":57.75,"o":180},{"x":57.75,"o":196},{"x":57.75,"o":212},{"x":57.95,"o":172},{"x":57.95,"o":188},{"x":57.95,"o":204},{"x":57.95,"o":220},{"x":57.95,"o":226},
{"x":62.6,"o":163},{"x":66.8,"o":165},{"x":66.95,"o":178},{"x":67.1,"o":183},{"x":68.2,"o":166},{"x":68.35,"o":180},{"x":68.5,"o":188},{"x":68.6,"o":176},{"x":74.8,"o":164},{"x":75,"o":172},{"x":75.7,"o":166},{"x":77.5,"o":168},{"x":77.65,"o":180},{"x":77.8,"o":188},{"x":77.9,"o":176}
],
"cc": [
{"x":10,"c":139},{"x":15,"c":140.5},{"x":17.3,"c":141.5},{"x":17.48,"c":144},{"x":17.6,"c":151},{"x":17.72,"c":144},{"x":17.95,"c":142},{"x":20,"c":142.5},{"x":23.1,"c":143.5},{"x":23.3,"c":146},{"x":23.4,"c":154.7},{"x":23.52,"c":146},{"x":23.75,"c":144},{"x":26.3,"c":145.5},{"x":26.48,"c":150},{"x":26.6,"c":159},{"x":26.72,"c":150},{"x":27,"c":146.5},{"x":30,"c":147.7},{"x":31.3,"c":148.4},{"x":31.6,"c":152},{"x":31.8,"c":170},{"x":31.95,"c":260},{"x":32.05,"c":387},{"x":32.15,"c":330},{"x":32.3,"c":230},{"x":32.45,"c":205},{"x":32.6,"c":260},{"x":32.7,"c":305},{"x":32.8,"c":260},{"x":32.95,"c":185},{"x":33.15,"c":160},{"x":33.5,"c":153},{"x":34,"c":152},{"x":35.6,"c":152.5},{"x":35.8,"c":155},{"x":36,"c":152.5},{"x":37.2,"c":152.7},{"x":37.4,"c":155.5},{"x":37.6,"c":152.7},{"x":38.7,"c":153},{"x":38.9,"c":157},{"x":39,"c":161.7},{"x":39.12,"c":157},{"x":39.4,"c":153},{"x":42.1,"c":153.5},{"x":42.35,"c":165},{"x":42.5,"c":185},{"x":42.6,"c":200},{"x":42.7,"c":185},{"x":42.85,"c":165},{"x":43.2,"c":155},{"x":44.6,"c":154},{"x":44.9,"c":162},{"x":45.05,"c":175},{"x":45.2,"c":183},{"x":45.35,"c":172},{"x":45.6,"c":158},{"x":46.3,"c":155},{"x":46.6,"c":170},{"x":46.78,"c":215},{"x":46.9,"c":238.6},{"x":47.02,"c":215},{"x":47.2,"c":170},{"x":47.5,"c":157},{"x":48.2,"c":155},{"x":49.1,"c":154.7},{"x":49.3,"c":156.5},{"x":49.5,"c":154.7},{"x":52.8,"c":155},{"x":53,"c":156.5},{"x":53.2,"c":155},{"x":54.4,"c":155.5},{"x":54.65,"c":160},{"x":54.8,"c":163.5},{"x":55,"c":159},{"x":55.3,"c":157.5},{"x":55.6,"c":158.5},{"x":55.9,"c":157},{"x":56.4,"c":159},{"x":56.65,"c":172},{"x":56.8,"c":182.7},{"x":56.95,"c":172},{"x":57.2,"c":168},{"x":57.5,"c":175},{"x":57.75,"c":205},{"x":57.9,"c":219.3},{"x":58.05,"c":200},{"x":58.3,"c":170},{"x":58.7,"c":157},{"x":60.1,"c":155.4},{"x":60.3,"c":157},{"x":60.5,"c":155.4},{"x":62.3,"c":155.6},{"x":62.5,"c":158},{"x":62.6,"c":160},{"x":62.75,"c":158},{"x":63,"c":155.8},{"x":64.8,"c":156},{"x":65,"c":158},{"x":65.1,"c":160},{"x":65.25,"c":158},{"x":65.6,"c":156},{"x":66.5,"c":157},{"x":66.8,"c":170},{"x":67,"c":181},{"x":67.2,"c":170},{"x":67.6,"c":163},{"x":68.1,"c":163},{"x":68.35,"c":172},{"x":68.5,"c":176.4},{"x":68.7,"c":170},{"x":69.1,"c":158},{"x":70,"c":156.5},{"x":74.3,"c":157},{"x":74.65,"c":163},{"x":74.9,"c":167.7},{"x":75.15,"c":163},{"x":75.45,"c":162},{"x":75.7,"c":163.5},{"x":76,"c":159},{"x":76.6,"c":157.2},{"x":77.3,"c":158},{"x":77.6,"c":170},{"x":77.8,"c":177.4},{"x":78,"c":170},{"x":78.4,"c":160},{"x":79,"c":157.5},{"x":80,"c":157.5}
],
"cb": [{"x":17.6},{"x":23.3},{"x":26.6},{"x":32.1},{"x":32.6},{"x":33.9},{"x":35.7},{"x":37.4},{"x":39.0},{"x":42.8},{"x":45.2},{"x":46.8},{"x":47.1},{"x":47.8},{"x":49.3},{"x":50.5},{"x":53.1},{"x":54.7},{"x":55.1},{"x":55.7},{"x":56.9},{"x":58.0},{"x":60.4},{"x":62.7},{"x":65.0},{"x":65.2},{"x":67.1},{"x":68.5},{"x":69.3},{"x":71.4},{"x":73.5},{"x":74.7},{"x":74.9},{"x":75.2},{"x":75.7},{"x":77.5},{"x":77.9},{"x":78.4},{"x":79.7}]
},
"vconcat": [
{
 "width": 566, "height": 455,
 "layer": [
  {"data": {"name": "a"}, "mark": {"type": "point", "filled": false, "size": 784, "strokeWidth": 1.5, "opacity": 1, "clip": true},
   "encoding": {
    "x": {"field": "x", "type": "quantitative", "scale": {"domain": [10, 80], "nice": false, "zero": false}, "axis": {"values": [10,15,20,25,30,35,40,45,50,55,60,65,70,75,80], "labelExpr": "datum.value % 10 === 0 ? datum.label : ''", "tickSize": {"condition": {"test": "datum.value % 10 === 0", "value": 7}, "value": 4}, "labelFont": "Liberation Serif", "labelFontSize": 22, "labelPadding": 5.5, "labelFlush": false, "labelOverlap": false, "title": "2 Theta (°)", "titleFont": "Liberation Serif", "titleFontSize": 27, "titlePadding": 9}},
    "y": {"field": "o", "type": "quantitative", "scale": {"domain": [0, 455], "nice": false, "zero": false}, "axis": {"title": "Intensity (a.u.)", "titleFont": "Liberation Serif", "titleFontSize": 27, "ticks": false, "labels": false, "titlePadding": 15}},
    "color": {"datum": "Observed", "type": "nominal", "scale": {"domain": ["Observed", "Calculated", "Difference", "Bragg position"], "range": ["#000000", "#ff0000", "#000000", "#0000ff"]}, "legend": {"title": null, "orient": "none", "legendX": 340, "legendY": 5}},
    "shape": {"datum": "Observed", "type": "nominal", "scale": {"domain": ["Observed", "Calculated", "Difference", "Bragg position"], "range": ["M-0.36,0L0.36,0M0,-0.36L0,0.36M-0.26,-0.26L0.26,0.26M-0.26,0.26L0.26,-0.26", "M-1.9,0L1.9,0", "M-1.9,0L1.9,0", "M0,-0.36L0,0.36"]}, "legend": {"title": null, "orient": "none", "legendX": 340, "legendY": 5}}}},
  {"data": {"name": "ac"}, "mark": {"type": "line", "color": "#ff0000", "strokeWidth": 2},
   "encoding": {"x": {"field": "x", "type": "quantitative", "scale": {"domain": [10, 80], "nice": false, "zero": false}}, "y": {"field": "c", "type": "quantitative", "scale": {"domain": [0, 455], "nice": false, "zero": false}}}},
  {"data": {"name": "a"}, "transform": [{"filter": "isValid(datum.d)"}], "mark": {"type": "line", "color": "#000000", "strokeWidth": 1.8},
   "encoding": {"x": {"field": "x", "type": "quantitative", "scale": {"domain": [10, 80], "nice": false, "zero": false}}, "y": {"field": "d", "type": "quantitative", "scale": {"domain": [0, 455], "nice": false, "zero": false}}}},
  {"data": {"name": "ab"}, "mark": {"type": "rule", "color": "#0000ff", "strokeWidth": 2},
   "encoding": {"x": {"field": "x", "type": "quantitative", "scale": {"domain": [10, 80], "nice": false, "zero": false}}, "y": {"datum": 83, "type": "quantitative", "scale": {"domain": [0, 455], "nice": false, "zero": false}}, "y2": {"datum": 93}}},
  {"data": {"values": [{"t": "SF"}]}, "mark": {"type": "text", "font": "Liberation Serif", "fontWeight": "bold", "fontSize": 27, "align": "left", "baseline": "alphabetic", "color": "#000000", "clip": false},
   "encoding": {"text": {"field": "t", "type": "nominal"}, "x": {"datum": 11.73, "type": "quantitative", "scale": {"domain": [10, 80], "nice": false, "zero": false}}, "y": {"datum": 409, "type": "quantitative", "scale": {"domain": [0, 455], "nice": false, "zero": false}}}},
  {"data": {"values": [{"t": "a"}]}, "mark": {"type": "text", "font": "Liberation Serif", "fontWeight": "bold", "fontSize": 52, "align": "left", "baseline": "alphabetic", "color": "#000000", "clip": false},
   "encoding": {"text": {"field": "t", "type": "nominal"}, "x": {"datum": 3.82, "type": "quantitative", "scale": {"domain": [10, 80], "nice": false, "zero": false}}, "y": {"datum": 425, "type": "quantitative", "scale": {"domain": [0, 455], "nice": false, "zero": false}}}}
 ]
},
{
 "width": 566, "height": 455,
 "layer": [
  {"data": {"name": "b"}, "mark": {"type": "point", "filled": false, "size": 784, "strokeWidth": 1.5, "opacity": 1, "clip": true},
   "encoding": {
    "x": {"field": "x", "type": "quantitative", "scale": {"domain": [10, 80], "nice": false, "zero": false}, "axis": {"values": [10,15,20,25,30,35,40,45,50,55,60,65,70,75,80], "labelExpr": "datum.value % 10 === 0 ? datum.label : ''", "tickSize": {"condition": {"test": "datum.value % 10 === 0", "value": 7}, "value": 4}, "labelFont": "Liberation Serif", "labelFontSize": 22, "labelPadding": 5.5, "labelFlush": false, "labelOverlap": false, "title": "2 Theta (°)", "titleFont": "Liberation Serif", "titleFontSize": 27, "titlePadding": 9}},
    "y": {"field": "o", "type": "quantitative", "scale": {"domain": [0, 455], "nice": false, "zero": false}, "axis": {"title": "Intensity (a.u.)", "titleFont": "Liberation Serif", "titleFontSize": 27, "ticks": false, "labels": false, "titlePadding": 15}},
    "color": {"datum": "Observed", "type": "nominal", "scale": {"domain": ["Observed", "Calculated", "Difference", "Bragg position"], "range": ["#000000", "#ff0000", "#000000", "#0000ff"]}, "legend": {"title": null, "orient": "none", "legendX": 340, "legendY": 11}},
    "shape": {"datum": "Observed", "type": "nominal", "scale": {"domain": ["Observed", "Calculated", "Difference", "Bragg position"], "range": ["M-0.36,0L0.36,0M0,-0.36L0,0.36M-0.26,-0.26L0.26,0.26M-0.26,0.26L0.26,-0.26", "M-1.9,0L1.9,0", "M-1.9,0L1.9,0", "M0,-0.36L0,0.36"]}, "legend": {"title": null, "orient": "none", "legendX": 340, "legendY": 11}}}},
  {"data": {"name": "bc"}, "mark": {"type": "line", "color": "#ff0000", "strokeWidth": 2},
   "encoding": {"x": {"field": "x", "type": "quantitative", "scale": {"domain": [10, 80], "nice": false, "zero": false}}, "y": {"field": "c", "type": "quantitative", "scale": {"domain": [0, 455], "nice": false, "zero": false}}}},
  {"data": {"name": "b"}, "transform": [{"filter": "isValid(datum.d)"}], "mark": {"type": "line", "color": "#000000", "strokeWidth": 1.3},
   "encoding": {"x": {"field": "x", "type": "quantitative", "scale": {"domain": [10, 80], "nice": false, "zero": false}}, "y": {"field": "d", "type": "quantitative", "scale": {"domain": [0, 455], "nice": false, "zero": false}}}},
  {"data": {"name": "bb"}, "mark": {"type": "rule", "color": "#0000ff", "strokeWidth": 2},
   "encoding": {"x": {"field": "x", "type": "quantitative", "scale": {"domain": [10, 80], "nice": false, "zero": false}}, "y": {"datum": 86, "type": "quantitative", "scale": {"domain": [0, 455], "nice": false, "zero": false}}, "y2": {"datum": 96}}},
  {"data": {"values": [{"t": "SFN"}]}, "mark": {"type": "text", "font": "Liberation Serif", "fontWeight": "bold", "fontSize": 27, "align": "left", "baseline": "alphabetic", "color": "#000000", "clip": false},
   "encoding": {"text": {"field": "t", "type": "nominal"}, "x": {"datum": 12.03, "type": "quantitative", "scale": {"domain": [10, 80], "nice": false, "zero": false}}, "y": {"datum": 416, "type": "quantitative", "scale": {"domain": [0, 455], "nice": false, "zero": false}}}},
  {"data": {"values": [{"t": "b"}]}, "mark": {"type": "text", "font": "Liberation Serif", "fontWeight": "bold", "fontSize": 52, "align": "left", "baseline": "alphabetic", "color": "#000000", "clip": false},
   "encoding": {"text": {"field": "t", "type": "nominal"}, "x": {"datum": 3.57, "type": "quantitative", "scale": {"domain": [10, 80], "nice": false, "zero": false}}, "y": {"datum": 419, "type": "quantitative", "scale": {"domain": [0, 455], "nice": false, "zero": false}}}}
 ]
},
{
 "width": 566, "height": 455,
 "layer": [
  {"data": {"name": "c"}, "mark": {"type": "point", "filled": false, "size": 784, "strokeWidth": 1.5, "opacity": 1, "clip": true},
   "encoding": {
    "x": {"field": "x", "type": "quantitative", "scale": {"domain": [10, 80], "nice": false, "zero": false}, "axis": {"values": [10,15,20,25,30,35,40,45,50,55,60,65,70,75,80], "labelExpr": "datum.value % 10 === 0 ? datum.label : ''", "tickSize": {"condition": {"test": "datum.value % 10 === 0", "value": 7}, "value": 4}, "labelFont": "Liberation Serif", "labelFontSize": 22, "labelPadding": 5.5, "labelFlush": false, "labelOverlap": false, "title": "2 Theta (°)", "titleFont": "Liberation Serif", "titleFontSize": 27, "titlePadding": 9}},
    "y": {"field": "o", "type": "quantitative", "scale": {"domain": [0, 455], "nice": false, "zero": false}, "axis": {"title": "Intensity (a.u.)", "titleFont": "Liberation Serif", "titleFontSize": 27, "ticks": false, "labels": false, "titlePadding": 15}},
    "color": {"datum": "Observed", "type": "nominal", "scale": {"domain": ["Observed", "Calculated", "Difference", "Bragg position"], "range": ["#000000", "#ff0000", "#000000", "#0000ff"]}, "legend": {"title": null, "orient": "none", "legendX": 340, "legendY": 11}},
    "shape": {"datum": "Observed", "type": "nominal", "scale": {"domain": ["Observed", "Calculated", "Difference", "Bragg position"], "range": ["M-0.36,0L0.36,0M0,-0.36L0,0.36M-0.26,-0.26L0.26,0.26M-0.26,0.26L0.26,-0.26", "M-1.9,0L1.9,0", "M-1.9,0L1.9,0", "M0,-0.36L0,0.36"]}, "legend": {"title": null, "orient": "none", "legendX": 340, "legendY": 11}}}},
  {"data": {"name": "cc"}, "mark": {"type": "line", "color": "#ff0000", "strokeWidth": 2},
   "encoding": {"x": {"field": "x", "type": "quantitative", "scale": {"domain": [10, 80], "nice": false, "zero": false}}, "y": {"field": "c", "type": "quantitative", "scale": {"domain": [0, 455], "nice": false, "zero": false}}}},
  {"data": {"name": "c"}, "transform": [{"filter": "isValid(datum.d)"}], "mark": {"type": "line", "color": "#000000", "strokeWidth": 0.9},
   "encoding": {"x": {"field": "x", "type": "quantitative", "scale": {"domain": [10, 80], "nice": false, "zero": false}}, "y": {"field": "d", "type": "quantitative", "scale": {"domain": [0, 455], "nice": false, "zero": false}}}},
  {"data": {"name": "cb"}, "mark": {"type": "rule", "color": "#0000ff", "strokeWidth": 2},
   "encoding": {"x": {"field": "x", "type": "quantitative", "scale": {"domain": [10, 80], "nice": false, "zero": false}}, "y": {"datum": 102, "type": "quantitative", "scale": {"domain": [0, 455], "nice": false, "zero": false}}, "y2": {"datum": 113}}},
  {"data": {"values": [{"t": "D-SFN"}]}, "mark": {"type": "text", "font": "Liberation Serif", "fontWeight": "bold", "fontSize": 27, "align": "left", "baseline": "alphabetic", "color": "#000000", "clip": false},
   "encoding": {"text": {"field": "t", "type": "nominal"}, "x": {"datum": 12.03, "type": "quantitative", "scale": {"domain": [10, 80], "nice": false, "zero": false}}, "y": {"datum": 417, "type": "quantitative", "scale": {"domain": [0, 455], "nice": false, "zero": false}}}},
  {"data": {"values": [{"t": "c"}]}, "mark": {"type": "text", "font": "Liberation Serif", "fontWeight": "bold", "fontSize": 52, "align": "left", "baseline": "alphabetic", "color": "#000000", "clip": false},
   "encoding": {"text": {"field": "t", "type": "nominal"}, "x": {"datum": 4.31, "type": "quantitative", "scale": {"domain": [10, 80], "nice": false, "zero": false}}, "y": {"datum": 411, "type": "quantitative", "scale": {"domain": [0, 455], "nice": false, "zero": false}}}}
 ]
}
]
}
